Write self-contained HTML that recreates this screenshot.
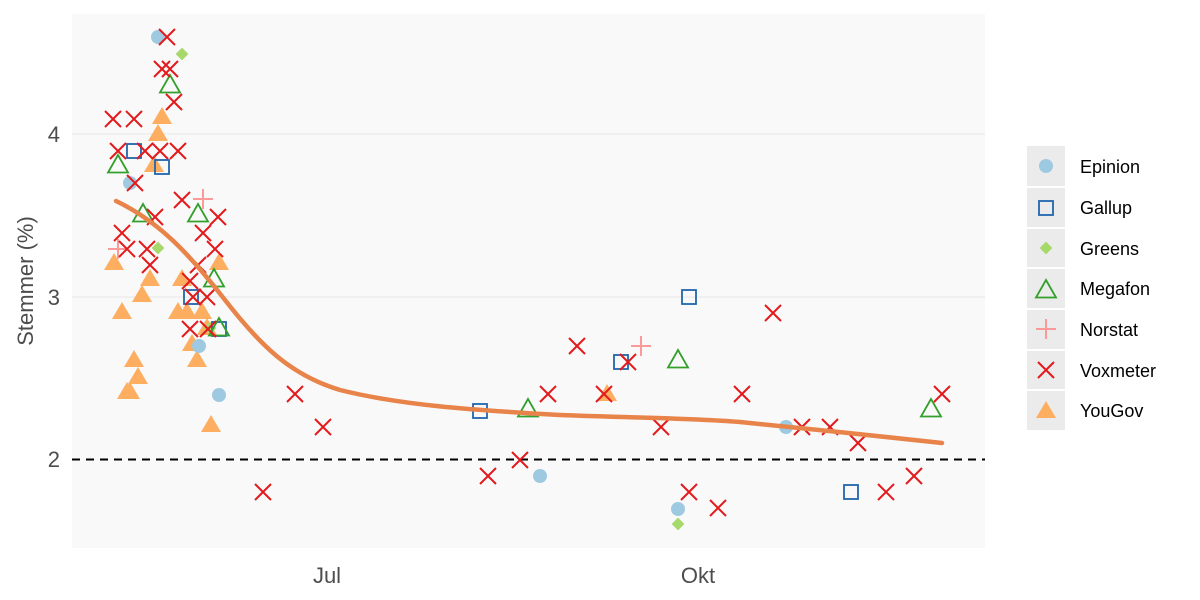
<!DOCTYPE html>
<html><head><meta charset="utf-8"><style>body{margin:0;background:#fff}svg{display:block;font-family:"Liberation Sans",sans-serif}</style></head><body>
<svg width="1200" height="600" xmlns="http://www.w3.org/2000/svg">
<defs>
<circle id="ep" r="7" fill="#9ecae1"/>
<rect id="ga" x="-7" y="-7" width="14" height="14" fill="none" stroke="#2166ac" stroke-width="1.8"/>
<rect id="gr" x="-4.5" y="-4.5" width="9" height="9" fill="#a6d96a" transform="rotate(45)"/>
<path id="me" d="M0,-10 L10,7.5 L-10,7.5 Z" fill="none" stroke="#33a02c" stroke-width="1.8"/>
<path id="no" d="M-10,0 H10 M0,-10 V10" stroke="#fb9a99" stroke-width="2"/>
<path id="vo" d="M-8,-8 L8,8 M-8,8 L8,-8" stroke="#e31a1c" stroke-width="2"/>
<path id="yg" d="M0,-10 L10,7 L-10,7 Z" fill="#fdae61"/>
</defs>
<rect x="72" y="14" width="913" height="534" fill="#f9f9f9"/>
<g stroke="#e6e6e6" stroke-width="1"><line x1="72" x2="985" y1="134" y2="134"/><line x1="72" x2="985" y1="297" y2="297"/></g>
<line x1="72" x2="985" y1="459.5" y2="459.5" stroke="#000" stroke-width="2" stroke-dasharray="8,6"/>
<g fill="#4d4d4d" font-size="22" text-anchor="end"><text x="60" y="467">2</text><text x="60" y="305">3</text><text x="60" y="142">4</text></g>
<g fill="#4d4d4d" font-size="22" text-anchor="middle"><text x="327" y="583">Jul</text><text x="698" y="583">Okt</text></g>
<text transform="translate(33,281) rotate(-90)" fill="#4d4d4d" font-size="22" text-anchor="middle">Stemmer (%)</text>
<g>
<use href="#yg" x="162" y="117"/><use href="#yg" x="158" y="134"/><use href="#yg" x="154" y="165"/><use href="#yg" x="114" y="263"/><use href="#yg" x="150" y="279"/><use href="#yg" x="142" y="295"/><use href="#yg" x="122" y="312"/><use href="#yg" x="182" y="279"/><use href="#yg" x="178" y="312"/><use href="#yg" x="187" y="312"/><use href="#yg" x="202" y="312"/><use href="#yg" x="219" y="263"/><use href="#yg" x="207" y="328"/><use href="#yg" x="192" y="344"/><use href="#yg" x="197" y="360"/><use href="#yg" x="134" y="360"/><use href="#yg" x="138" y="377"/><use href="#yg" x="127" y="392"/><use href="#yg" x="130" y="392"/><use href="#yg" x="211" y="425"/><use href="#yg" x="607" y="394"/>
<use href="#ep" x="158" y="37"/><use href="#ep" x="130" y="183"/><use href="#ep" x="199" y="346"/><use href="#ep" x="219" y="395"/><use href="#ep" x="540" y="476"/><use href="#ep" x="678" y="509"/><use href="#ep" x="786" y="427"/>
<use href="#gr" x="182" y="54"/><use href="#gr" x="158" y="248"/><use href="#gr" x="210" y="328"/><use href="#gr" x="678" y="524"/>
<use href="#ga" x="134" y="151"/><use href="#ga" x="162" y="167"/><use href="#ga" x="191" y="297"/><use href="#ga" x="219" y="329"/><use href="#ga" x="480" y="411"/><use href="#ga" x="621" y="362"/><use href="#ga" x="689" y="297"/><use href="#ga" x="851" y="492"/>
<use href="#me" x="118" y="165"/><use href="#me" x="170" y="85"/><use href="#me" x="143" y="214"/><use href="#me" x="198" y="214"/><use href="#me" x="214" y="279"/><use href="#me" x="219" y="328"/><use href="#me" x="528" y="409"/><use href="#me" x="678" y="360"/><use href="#me" x="931" y="409"/>
<use href="#no" x="118" y="249"/><use href="#no" x="203" y="199"/><use href="#no" x="641" y="346"/>
<use href="#vo" x="167" y="37"/><use href="#vo" x="162" y="69"/><use href="#vo" x="170" y="69"/><use href="#vo" x="174" y="102"/><use href="#vo" x="113" y="119"/><use href="#vo" x="134" y="119"/><use href="#vo" x="118" y="151"/><use href="#vo" x="145" y="151"/><use href="#vo" x="160" y="151"/><use href="#vo" x="178" y="151"/><use href="#vo" x="135" y="183"/><use href="#vo" x="182" y="200"/><use href="#vo" x="155" y="217"/><use href="#vo" x="218" y="217"/><use href="#vo" x="122" y="233"/><use href="#vo" x="203" y="233"/><use href="#vo" x="127" y="249"/><use href="#vo" x="147" y="249"/><use href="#vo" x="215" y="249"/><use href="#vo" x="150" y="265"/><use href="#vo" x="198" y="265"/><use href="#vo" x="190" y="281"/><use href="#vo" x="193" y="297"/><use href="#vo" x="207" y="297"/><use href="#vo" x="190" y="329"/><use href="#vo" x="208" y="329"/>
<use href="#vo" x="263" y="492"/><use href="#vo" x="295" y="394"/><use href="#vo" x="323" y="427"/><use href="#vo" x="488" y="476"/><use href="#vo" x="520" y="460"/><use href="#vo" x="548" y="394"/><use href="#vo" x="577" y="346"/><use href="#vo" x="604" y="394"/><use href="#vo" x="628" y="362"/><use href="#vo" x="661" y="427"/><use href="#vo" x="689" y="492"/><use href="#vo" x="718" y="508"/><use href="#vo" x="742" y="394"/><use href="#vo" x="773" y="313"/><use href="#vo" x="802" y="427"/><use href="#vo" x="830" y="427"/><use href="#vo" x="858" y="443"/><use href="#vo" x="886" y="492"/><use href="#vo" x="914" y="476"/><use href="#vo" x="942" y="394"/>
</g>
<path d="M116,201 C160,222 190,255 225,300 C260,345 290,375 340,390 C400,405 470,410 560,415 C640,418 690,418 740,422 C800,428 880,436 942,443" fill="none" stroke="#e8834a" stroke-width="4.5" stroke-linecap="round"/>
<g>
<rect x="1027" y="146" width="38" height="284" fill="#ebebeb"/>
<g stroke="#fff" stroke-width="2"><line x1="1027" x2="1065" y1="187" y2="187"/><line x1="1027" x2="1065" y1="228" y2="228"/><line x1="1027" x2="1065" y1="268" y2="268"/><line x1="1027" x2="1065" y1="309" y2="309"/><line x1="1027" x2="1065" y1="350" y2="350"/><line x1="1027" x2="1065" y1="390" y2="390"/></g>
<use href="#ep" x="1046" y="166"/><use href="#ga" x="1046" y="208"/><use href="#gr" x="1046" y="248"/><use href="#me" x="1046" y="290"/><use href="#no" x="1046" y="329"/><use href="#vo" x="1046" y="370"/><use href="#yg" x="1046" y="411"/>
<g font-size="18" fill="#000"><text x="1080" y="173">Epinion</text><text x="1080" y="214">Gallup</text><text x="1080" y="255">Greens</text><text x="1080" y="295">Megafon</text><text x="1080" y="336">Norstat</text><text x="1080" y="377">Voxmeter</text><text x="1080" y="417">YouGov</text></g>
</g>
</svg>
</body></html>
